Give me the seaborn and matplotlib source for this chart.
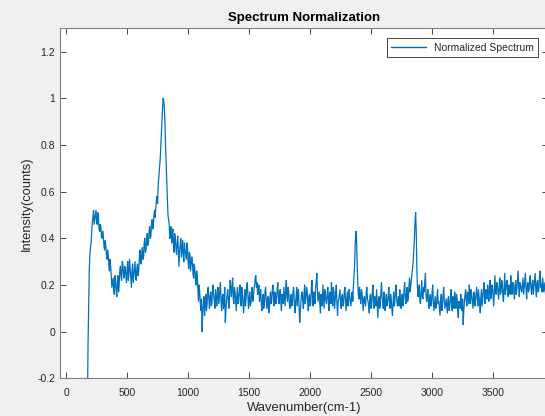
import numpy as np
import pandas as pd
import seaborn as sns
import matplotlib
matplotlib.use("Agg")
import matplotlib.pyplot as plt

# spectrum: main samples every 10 cm-1 from 175 cm-1,
# plus the in-between samples (180, 190, ...) to keep the noise density
start_wavenumber = 175
step_wavenumber = 10
intensity = [
    # 175 - 765: broad low band + rise to main peak
    -0.30, 0.10, 0.33, 0.38, 0.47, 0.52, 0.48, 0.52, 0.46, 0.49,
    0.43, 0.45, 0.40, 0.41, 0.35, 0.37, 0.31, 0.33, 0.26, 0.28,
    0.19, 0.23, 0.16, 0.22, 0.15, 0.24, 0.20, 0.28, 0.22, 0.29,
    0.23, 0.27, 0.21, 0.30, 0.25, 0.27, 0.19, 0.29, 0.24, 0.30,
    0.22, 0.29, 0.26, 0.35, 0.29, 0.36, 0.32, 0.40, 0.35, 0.42,
    0.38, 0.45, 0.41, 0.48, 0.45, 0.52, 0.53, 0.58, 0.63, 0.70,
    # 775 - 1165: main peak and decay
    0.78, 0.90, 1.00, 0.96, 0.80, 0.64, 0.50, 0.46, 0.43, 0.38,
    0.44, 0.34, 0.40, 0.33, 0.41, 0.28, 0.37, 0.32, 0.39, 0.30,
    0.35, 0.31, 0.36, 0.27, 0.33, 0.29, 0.30, 0.23, 0.27, 0.20,
    0.24, 0.13, 0.17, 0.09, 0.00, 0.12, 0.07, 0.16, 0.11, 0.19,
    # 1175 - 1225
    0.10, 0.17, 0.12, 0.20, 0.13, 0.18,
    # 1235 - 2325: baseline
    0.11, 0.19, 0.14, 0.21, 0.09, 0.16, 0.12, 0.04, 0.13, 0.18,
    0.10, 0.22, 0.15, 0.23, 0.12, 0.17, 0.09, 0.19, 0.13, 0.20,
    0.11, 0.16, 0.08, 0.18, 0.14, 0.21, 0.10, 0.17, 0.12, 0.19,
    0.15, 0.20, 0.24, 0.21, 0.17, 0.13, 0.18, 0.09, 0.16, 0.12,
    0.19, 0.10, 0.15, 0.08, 0.17, 0.13, 0.20, 0.11, 0.16, 0.14,
    0.21, 0.12, 0.18, 0.09, 0.15, 0.19, 0.11, 0.22, 0.13, 0.17,
    0.10, 0.16, 0.12, 0.19, 0.08, 0.15, 0.11, 0.18, 0.04, 0.13,
    0.17, 0.10, 0.20, 0.14, 0.18, 0.09, 0.16, 0.12, 0.22, 0.11,
    0.15, 0.19, 0.25, 0.13, 0.17, 0.08, 0.14, 0.20, 0.10, 0.16,
    0.12, 0.19, 0.09, 0.15, 0.21, 0.11, 0.17, 0.13, 0.20, 0.07,
    0.14, 0.18, 0.10, 0.16, 0.12, 0.19, 0.09, 0.17, 0.13, 0.15,
    # 2335 - 2425: peak near 2375
    0.11, 0.17, 0.20, 0.29, 0.43, 0.30, 0.16, 0.19, 0.12, 0.17,
    # 2435 - 2825
    0.09, 0.15, 0.11, 0.19, 0.13, 0.08, 0.16, 0.12, 0.20, 0.10,
    0.14, 0.18, 0.06, 0.15, 0.11, 0.21, 0.13, 0.17, 0.09, 0.16,
    0.12, 0.19, 0.10, 0.14, 0.07, 0.17, 0.13, 0.20, 0.11, 0.15,
    0.18, 0.10, 0.16, 0.13, 0.21, 0.12, 0.19, 0.15, 0.23, 0.20,
    # 2835 - 2925: peak near 2865
    0.25, 0.30, 0.40, 0.51, 0.27, 0.15, 0.20, 0.12, 0.22, 0.14,
    # 2935 - 3955
    0.17, 0.25, 0.13, 0.18, 0.10, 0.16, 0.12, 0.20, 0.09, 0.15,
    0.11, 0.18, 0.13, 0.07, 0.16, 0.12, 0.19, 0.10, 0.14, 0.08,
    0.15, 0.11, 0.18, 0.09, 0.13, 0.17, 0.10, 0.14, 0.06, 0.12,
    0.16, 0.09, 0.03, 0.13, 0.18, 0.11, 0.15, 0.20, 0.12, 0.16,
    0.10, 0.17, 0.13, 0.19, 0.11, 0.15, 0.08, 0.18, 0.14, 0.21,
    0.12, 0.17, 0.20, 0.13, 0.22, 0.15, 0.19, 0.11, 0.24, 0.16,
    0.20, 0.14, 0.23, 0.17, 0.21, 0.13, 0.25, 0.18, 0.22, 0.15,
    0.19, 0.24, 0.16, 0.21, 0.14, 0.22, 0.18, 0.26, 0.15, 0.20,
    0.17, 0.23, 0.19, 0.25, 0.14, 0.21, 0.18, 0.24, 0.16, 0.22,
    0.19, 0.25, 0.15, 0.22, 0.18, 0.26, 0.20, 0.23, 0.17, 0.21,
    0.18, 0.24, 0.19,
]
# samples halfway between the ones above (180, 190, ... 3950)
intensity_mid = [
    -0.05, 0.27, 0.36, 0.43, 0.49, 0.46, 0.50, 0.47, 0.51, 0.44,
    0.46, 0.41, 0.43, 0.37, 0.39, 0.33, 0.35, 0.29, 0.31, 0.24,
    0.21, 0.18, 0.24, 0.18, 0.21, 0.17, 0.26, 0.24, 0.30, 0.25,
    0.28, 0.24, 0.27, 0.22, 0.31, 0.23, 0.26, 0.21, 0.27, 0.23,
    0.27, 0.24, 0.31, 0.30, 0.33, 0.31, 0.38, 0.34, 0.39, 0.37,
    0.43, 0.40, 0.46, 0.44, 0.50, 0.49, 0.56, 0.55, 0.66, 0.73,
    0.84, 0.95, 0.99, 0.90, 0.72, 0.57, 0.48, 0.40, 0.45, 0.42,
    0.37, 0.42, 0.36, 0.38, 0.34, 0.35, 0.40, 0.35, 0.33, 0.38,
    0.33, 0.38, 0.30, 0.34, 0.26, 0.32, 0.25, 0.29, 0.22, 0.26,
    0.18, 0.20, 0.12, 0.14, 0.08, 0.15, 0.13, 0.09, 0.17, 0.14,
    0.15, 0.11, 0.18, 0.15, 0.10, 0.14,
    0.17, 0.12, 0.18, 0.13, 0.15, 0.10, 0.19, 0.09, 0.16, 0.13,
    0.16, 0.18, 0.20, 0.14, 0.19, 0.13, 0.16, 0.12, 0.17, 0.15,
    0.19, 0.12, 0.14, 0.11, 0.19, 0.15, 0.14, 0.11, 0.16, 0.13,
    0.18, 0.23, 0.19, 0.16, 0.20, 0.16, 0.12, 0.14, 0.10, 0.17,
    0.14, 0.13, 0.11, 0.14, 0.12, 0.18, 0.15, 0.17, 0.12, 0.18,
    0.15, 0.16, 0.13, 0.16, 0.12, 0.15, 0.18, 0.15, 0.19, 0.12,
    0.14, 0.11, 0.17, 0.13, 0.12, 0.19, 0.16, 0.10, 0.09, 0.16,
    0.13, 0.16, 0.12, 0.19, 0.13, 0.15, 0.11, 0.18, 0.15, 0.17,
    0.12, 0.21, 0.18, 0.15, 0.12, 0.16, 0.11, 0.15, 0.18, 0.13,
    0.16, 0.13, 0.17, 0.12, 0.14, 0.19, 0.10, 0.17, 0.12, 0.13,
    0.16, 0.12, 0.15, 0.11, 0.17, 0.14, 0.13, 0.11, 0.18, 0.13,
    0.15, 0.13, 0.24, 0.38, 0.41, 0.22, 0.14, 0.15, 0.18, 0.13,
    0.14, 0.12, 0.17, 0.14, 0.11, 0.15, 0.10, 0.17, 0.13, 0.15,
    0.11, 0.12, 0.13, 0.10, 0.17, 0.15, 0.10, 0.14, 0.13, 0.11,
    0.15, 0.13, 0.16, 0.10, 0.12, 0.11, 0.18, 0.14, 0.13, 0.11,
    0.13, 0.14, 0.11, 0.18, 0.15, 0.16, 0.13, 0.19, 0.17, 0.22,
    0.27, 0.35, 0.47, 0.43, 0.19, 0.18, 0.13, 0.17, 0.15, 0.19,
    0.21, 0.16, 0.15, 0.13, 0.14, 0.11, 0.17, 0.13, 0.12, 0.10,
    0.15, 0.12, 0.10, 0.13, 0.09, 0.16, 0.13, 0.12, 0.11, 0.14,
    0.09, 0.14, 0.12, 0.15, 0.10, 0.13, 0.16, 0.09, 0.13, 0.10,
    0.12, 0.14, 0.09, 0.16, 0.13, 0.17, 0.12, 0.14, 0.18, 0.13,
    0.15, 0.11, 0.16, 0.14, 0.18, 0.12, 0.15, 0.11, 0.17, 0.15,
    0.18, 0.14, 0.16, 0.19, 0.14, 0.20, 0.15, 0.18, 0.17, 0.21,
    0.17, 0.19, 0.16, 0.22, 0.15, 0.19, 0.16, 0.21, 0.16, 0.20,
    0.16, 0.18, 0.21, 0.17, 0.20, 0.16, 0.22, 0.19, 0.21, 0.18,
    0.20, 0.16, 0.22, 0.18, 0.20, 0.17, 0.22, 0.19, 0.20, 0.16,
    0.22, 0.18, 0.21, 0.17, 0.23, 0.19, 0.17, 0.21, 0.19, 0.16,
    0.21, 0.17,
]
x_ticks = [0, 500, 1000, 1500, 2000, 2500, 3000, 3500]
y_ticks = [-0.2, 0, 0.2, 0.4, 0.6, 0.8, 1, 1.2]
y_tick_labels = ["-0.2", "0", "0.2", "0.4", "0.6", "0.8", "1", "1.2"]

wn_main = start_wavenumber + step_wavenumber * np.arange(len(intensity))
wn_mid = wn_main[:len(intensity_mid)] + step_wavenumber / 2
df = pd.DataFrame({
    "Wavenumber": np.concatenate([wn_main, wn_mid]),
    "Intensity": intensity + intensity_mid,
}).sort_values("Wavenumber")

sns.set_style("ticks")
plt.rcParams["font.family"] = ["Liberation Sans", "DejaVu Sans"]

blue = "#0072BD"
axis_col = "#262626"
fig = plt.figure(figsize=(5.45, 4.16), dpi=100, facecolor="#f0f0f0")
ax = fig.add_axes([0.1101, 0.0906, 0.8954, 0.8413])
ax.set_facecolor("white")

sns.lineplot(data=df, x="Wavenumber", y="Intensity", ax=ax, color=blue,
             linewidth=0.9, estimator=None, sort=False, label="Normalized Spectrum")

ax.set_xlim(-50, 3950)
ax.set_ylim(-0.2, 1.3)
ax.set_xticks(x_ticks)
ax.set_yticks(y_ticks)
ax.set_yticklabels(y_tick_labels)
ax.tick_params(direction="in", length=4, width=0.6, colors=axis_col, labelsize=7.5,
               top=True, right=True, labelcolor=axis_col)
ax.tick_params(axis="x", pad=7)
for s in ax.spines.values():
    s.set_color("#808080")
    s.set_linewidth(0.8)

ax.set_title("Spectrum Normalization", fontsize=9.5, fontweight="bold", pad=5, color="black")
ax.set_xlabel("Wavenumber(cm-1)", fontsize=9.4, color=axis_col, labelpad=3)
ax.set_ylabel("Intensity(counts)", fontsize=9.3, color=axis_col, labelpad=3)

leg = ax.legend(loc="upper right", bbox_to_anchor=(0.9795, 0.971), fontsize=7.5,
                frameon=True, fancybox=False, edgecolor=axis_col, framealpha=1,
                handlelength=3.3, borderpad=0.4, borderaxespad=0)
leg.get_frame().set_linewidth(0.6)
for h in leg.get_lines():
    h.set_color(blue)
    h.set_linewidth(1.0)

fig.savefig("out.png", dpi=100, facecolor=fig.get_facecolor())
